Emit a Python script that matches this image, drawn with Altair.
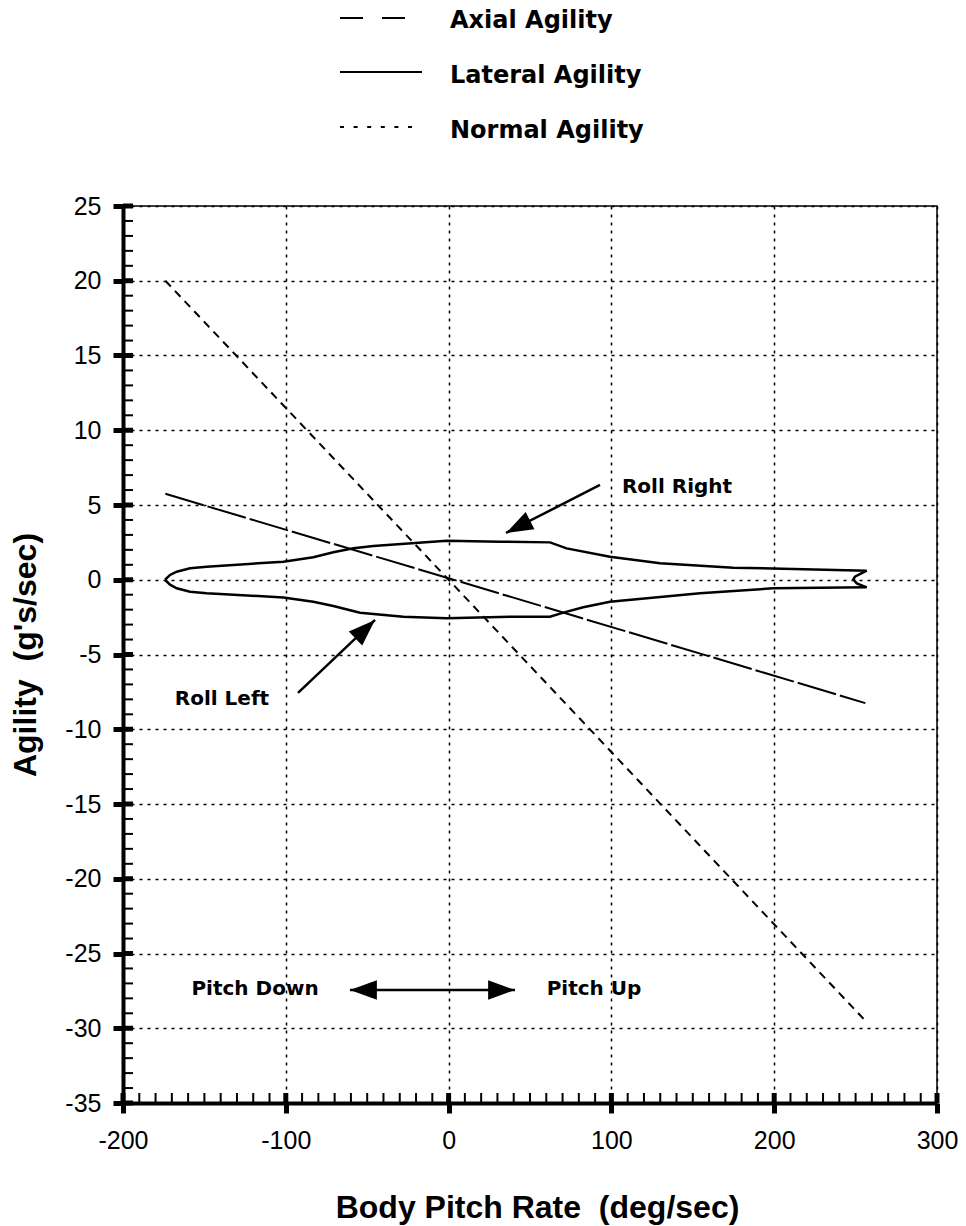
import altair as alt
import pandas as pd

W, H = 814, 897

# ---- data ----
NORMAL_X = [-174, 0, 256]
NORMAL_Y = [20.0, 0.0, -29.5]

AXIAL_X = [-174, 0, 256]
AXIAL_Y = [5.75, 0.1, -8.25]

LATERAL_X = [-174.2, -171.1, -167.0, -158.8, -148.6, -101.5, -83.1, -70.8, -58.5, -46.2,
             -1.2, 31.6, 62.3, 72.5, 99.1, 129.9, 174.9, 256.8, 249.6, 248.6, 250.7, 256.8,
             199.4, 154.4, 99.1, 82.7, 70.5, 62.3, 39.7, -1.2, -27.8, -54.4, -70.8, -83.1,
             -101.5, -148.6, -158.8, -167.0, -171.1, -174.2]
LATERAL_Y = [0.0, 0.32, 0.54, 0.77, 0.87, 1.21, 1.50, 1.84, 2.10, 2.26,
             2.61, 2.55, 2.50, 2.10, 1.54, 1.10, 0.81, 0.61, 0.20, 0.03, -0.24, -0.51,
             -0.57, -0.91, -1.47, -1.84, -2.20, -2.47, -2.47, -2.58, -2.47, -2.20, -1.76, -1.47,
             -1.18, -0.91, -0.80, -0.57, -0.33, 0.0]

LEGEND_LABELS = ["Axial Agility", "Lateral Agility", "Normal Agility"]

ANNOT_TEXT = ["Roll Right", "Roll Left", "Pitch Down", "Pitch Up"]
ANNOT_X = [140.3, -139.2, -118.9, 89.3]
ANNOT_Y = [5.8, -8.38, -27.78, -27.78]

ARROW_X1 = [93.0, -92.5, -60.6]
ARROW_Y1 = [6.34, -7.57, -27.44]
ARROW_X2 = [35.3, -45.2, 40.8]
ARROW_Y2 = [3.13, -2.69, -27.44]

HEAD_X = [35.3, -45.2, -60.6, 40.8]
HEAD_Y = [3.13, -2.69, -27.44, -27.44]
HEAD_ANGLE = [243, 46.5, 270, 90]

X_MAJOR = [-200, -100, 0, 100, 200, 300]
X_MINOR = [v for v in range(-190, 300, 10) if v % 100 != 0]
Y_MAJOR = [-35, -30, -25, -20, -15, -10, -5, 0, 5, 10, 15, 20, 25]
Y_MINOR = [v for v in range(-34, 25) if v % 5 != 0]

# ---- scales / axes ----
xs = alt.Scale(domain=[-200, 300], nice=False, zero=False)
ys = alt.Scale(domain=[-35, 25], nice=False, zero=False)

x_axis = alt.Axis(values=X_MAJOR, title="Body Pitch Rate\u00a0 (deg/sec)",
                  labelExpr="'' + datum.value",
                  labelFont="Liberation Sans", labelFontSize=25, labelColor="black",
                  labelPadding=15, labelFlush=False,
                  titleFont="Liberation Sans", titleFontSize=32, titleFontWeight="bold",
                  titleColor="black", titleX=414, titleY=114, titleBaseline="alphabetic",
                  titleAlign="center",
                  domainColor="black", domainWidth=4, tickColor="black", tickWidth=5,
                  tickSize=10, grid=True, gridColor="black", gridDash=[3, 5], gridWidth=1.5,
                  gridOpacity=1)
y_axis = alt.Axis(values=Y_MAJOR, title="Agility\u00a0 (g's/sec)",
                  labelExpr="'' + datum.value",
                  labelFont="Liberation Sans", labelFontSize=25, labelColor="black",
                  labelPadding=12, labelFlush=False,
                  titleFont="Liberation Sans", titleFontSize=32, titleFontWeight="bold",
                  titleColor="black", titleX=-88, titleY=H / 2, titleBaseline="alphabetic",
                  titleAlign="center", titleAngle=270,
                  domainColor="black", domainWidth=4, tickColor="black", tickWidth=5,
                  tickSize=10, grid=True, gridColor="black", gridDash=[3, 5], gridWidth=1.5,
                  gridOpacity=1)

normal_df = pd.DataFrame({"x": NORMAL_X, "y": NORMAL_Y})
axial_df = pd.DataFrame({"x": AXIAL_X, "y": AXIAL_Y})
lateral_df = pd.DataFrame({"x": LATERAL_X, "y": LATERAL_Y, "o": list(range(len(LATERAL_X)))})

base_axes = alt.Chart(normal_df).mark_point(opacity=0).encode(
    x=alt.X("x:Q", scale=xs, axis=x_axis),
    y=alt.Y("y:Q", scale=ys, axis=y_axis),
)

normal = alt.Chart(normal_df).mark_line(color="black", strokeWidth=2, strokeDash=[8, 6]).encode(
    x=alt.X("x:Q", scale=xs), y=alt.Y("y:Q", scale=ys))
axial = alt.Chart(axial_df).mark_line(color="black", strokeWidth=2, strokeDash=[40, 4]).encode(
    x=alt.X("x:Q", scale=xs), y=alt.Y("y:Q", scale=ys))
lateral = alt.Chart(lateral_df).mark_line(color="black", strokeWidth=2.5).encode(
    x=alt.X("x:Q", scale=xs), y=alt.Y("y:Q", scale=ys), order="o:Q")

# inside ticks
xminor = alt.Chart(pd.DataFrame({"v": X_MINOR})).mark_rule(color="black", strokeWidth=2).encode(
    x=alt.X("v:Q", scale=xs), y=alt.value(H), y2=alt.value(H - 10))
xmajor = alt.Chart(pd.DataFrame({"v": X_MAJOR})).mark_rule(color="black", strokeWidth=5).encode(
    x=alt.X("v:Q", scale=xs), y=alt.value(H), y2=alt.value(H - 10))
yminor = alt.Chart(pd.DataFrame({"v": Y_MINOR})).mark_rule(color="black", strokeWidth=2).encode(
    y=alt.Y("v:Q", scale=ys), x=alt.value(0), x2=alt.value(10))
ymajor = alt.Chart(pd.DataFrame({"v": Y_MAJOR})).mark_rule(color="black", strokeWidth=5).encode(
    y=alt.Y("v:Q", scale=ys), x=alt.value(0), x2=alt.value(10))

# annotations
annot = alt.Chart(pd.DataFrame({"t": ANNOT_TEXT, "x": ANNOT_X, "y": ANNOT_Y})).mark_text(
    font="DejaVu Sans", fontSize=20, fontWeight="bold", color="black", align="center",
    baseline="alphabetic").encode(
    x=alt.X("x:Q", scale=xs), y=alt.Y("y:Q", scale=ys), text="t:N")

arrows = alt.Chart(pd.DataFrame({"x": ARROW_X1, "y": ARROW_Y1, "x2": ARROW_X2, "y2": ARROW_Y2})
                   ).mark_rule(color="black", strokeWidth=2.5).encode(
    x=alt.X("x:Q", scale=xs), y=alt.Y("y:Q", scale=ys), x2="x2:Q", y2="y2:Q")

heads = alt.Chart(pd.DataFrame({"x": HEAD_X, "y": HEAD_Y, "a": HEAD_ANGLE})).mark_point(
    shape="M0,0L-0.36,1L0.36,1Z", filled=True, color="black", opacity=1, size=2900,
    strokeWidth=0).encode(
    x=alt.X("x:Q", scale=xs), y=alt.Y("y:Q", scale=ys), angle=alt.Angle("a:Q", scale=None))

# legend (drawn above the plot)
LEG_Y = [-188, -134, -79]
LEG_X2 = [283, 299, 289]
LEG_DASH = [[23, 19], [1, 0], [4, 9.6]]
LEG_TEXT_Y = [-178, -123, -68]
legend_layers = []
for i, lab in enumerate(LEGEND_LABELS):
    d = pd.DataFrame({"label": [lab]})
    legend_layers.append(
        alt.Chart(d).mark_rule(color="black", strokeWidth=2, strokeDash=LEG_DASH[i]).encode(
            x=alt.value(217), x2=alt.value(LEG_X2[i]), y=alt.value(LEG_Y[i])))
    legend_layers.append(
        alt.Chart(d).mark_text(font="DejaVu Sans", fontSize=24, fontWeight="bold", color="black",
                               align="left", baseline="alphabetic").encode(
            x=alt.value(327), y=alt.value(LEG_TEXT_Y[i]), text="label:N"))

chart = alt.layer(
    base_axes, xminor, xmajor, yminor, ymajor, normal, axial, lateral, arrows, heads, annot,
    *legend_layers
).properties(
    width=W, height=H,
    autosize=alt.AutoSizeParams(type="none"),
    padding={"left": 123, "top": 206, "right": 29, "bottom": 123},
    background="white",
).configure_view(stroke="black", strokeWidth=1.5)

chart.save("out.html", embed_options={"renderer": "svg", "actions": False})
